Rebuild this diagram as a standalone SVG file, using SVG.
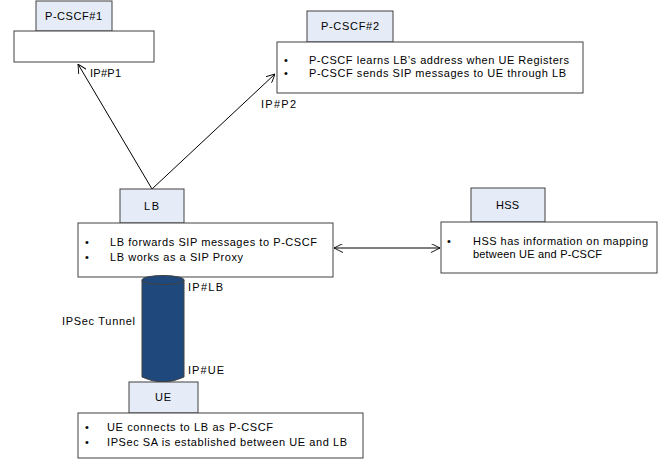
<svg xmlns="http://www.w3.org/2000/svg" width="667" height="462" viewBox="0 0 667 462">
<defs>
<style>
text{font-family:"Liberation Sans",Arial,sans-serif;font-size:11px;fill:#000}
.lbl{fill:#E6ECF7;stroke:#404040;stroke-width:1}
.body{fill:#fff;stroke:#404040;stroke-width:1}
.conn{stroke:#000;stroke-width:1;fill:none}
</style>
<marker id="ah" viewBox="0 0 10 10" refX="10" refY="5" markerWidth="9" markerHeight="9" orient="auto-start-reverse" markerUnits="userSpaceOnUse">
<path d="M0,0 L10,5 L0,10" fill="none" stroke="#000" stroke-width="1"/>
</marker>
</defs>
<rect width="667" height="462" fill="#fff"/>
<g id="connectors">
<line class="conn" x1="152" y1="189" x2="78" y2="64" marker-end="url(#ah)"/>
<line class="conn" x1="152" y1="189" x2="275" y2="74" marker-end="url(#ah)"/>
<line class="conn" x1="334" y1="248" x2="440" y2="248" marker-start="url(#ah)" marker-end="url(#ah)"/>
<text x="90" y="77" textLength="31" lengthAdjust="spacing">IP#P1</text>
<text x="261" y="108" textLength="35" lengthAdjust="spacing">IP#P2</text>
</g>
<g id="pcscf1">
<rect class="lbl" x="36" y="1" width="76" height="30"/>
<text x="45" y="20" textLength="57" lengthAdjust="spacing">P-CSCF#1</text>
<rect class="body" x="14" y="31" width="140" height="31"/>
</g>
<g id="pcscf2">
<rect class="lbl" x="307" y="11" width="86" height="31"/>
<text x="321" y="30" textLength="58" lengthAdjust="spacing">P-CSCF#2</text>
<rect class="body" x="277" y="42" width="306" height="51"/>
<text x="284" y="64">•</text>
<text x="309" y="64" textLength="260" lengthAdjust="spacing">P-CSCF learns LB’s address when UE Registers</text>
<text x="284" y="77">•</text>
<text x="309" y="77" textLength="257" lengthAdjust="spacing">P-CSCF sends SIP messages to UE through LB</text>
</g>
<g id="lb">
<rect class="lbl" x="120" y="189" width="64" height="34"/>
<text x="144" y="210" textLength="15" lengthAdjust="spacing">LB</text>
<rect class="body" x="78" y="223" width="255" height="54"/>
<text x="85" y="246">•</text>
<text x="110" y="246" textLength="207" lengthAdjust="spacing">LB forwards SIP messages to P-CSCF</text>
<text x="85" y="261">•</text>
<text x="110" y="261" textLength="133" lengthAdjust="spacing">LB works as a SIP Proxy</text>
</g>
<g id="hss">
<rect class="lbl" x="471" y="188" width="74" height="34"/>
<text x="496" y="209" textLength="23" lengthAdjust="spacing">HSS</text>
<rect class="body" x="441" y="222" width="216" height="51"/>
<text x="447" y="245">•</text>
<text x="473" y="245" textLength="175" lengthAdjust="spacing">HSS has information on mapping</text>
<text x="473" y="258" textLength="129" lengthAdjust="spacing">between UE and P-CSCF</text>
</g>
<g id="tunnel">
<path d="M142,280 L142,377 Q163,387 184,377 L184,280 Z" fill="#1F497D" stroke="#404040" stroke-width="1"/>
<ellipse cx="163" cy="280" rx="21" ry="4.5" fill="#1F497D" stroke="#404040" stroke-width="1"/>
<text x="188" y="291" textLength="35" lengthAdjust="spacing">IP#LB</text>
<text x="188" y="374" textLength="36" lengthAdjust="spacing">IP#UE</text>
<text x="62" y="325" textLength="73" lengthAdjust="spacing">IPSec Tunnel</text>
</g>
<g id="ue">
<rect class="lbl" x="129" y="382" width="69" height="31"/>
<text x="155" y="401" textLength="16" lengthAdjust="spacing">UE</text>
<rect class="body" x="78" y="413" width="285" height="45"/>
<text x="85" y="431">•</text>
<text x="107" y="431" textLength="166" lengthAdjust="spacing">UE connects to LB as P-CSCF</text>
<text x="85" y="446">•</text>
<text x="107" y="446" textLength="240" lengthAdjust="spacing">IPSec SA is established between UE and LB</text>
</g>
</svg>
